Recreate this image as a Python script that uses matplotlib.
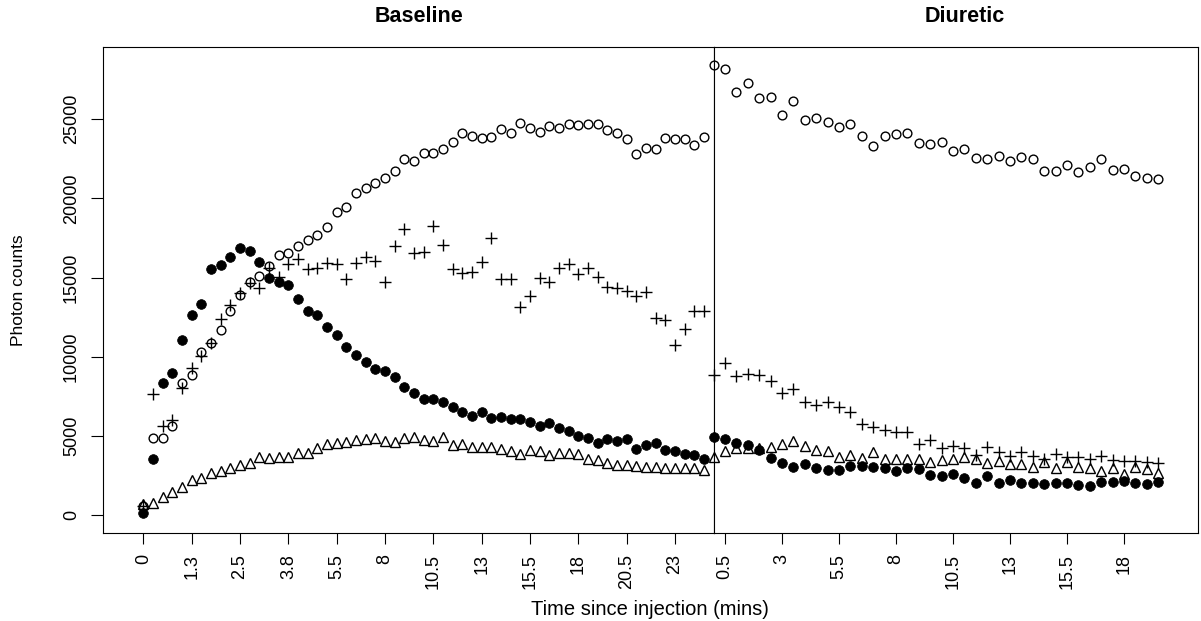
"""
Renogram photon counts, baseline vs diuretic phase (R base-graphics look).
Output: out.png
"""
import matplotlib
matplotlib.use('Agg')
import matplotlib.pyplot as plt

# Baseline phase, one value per frame (59 frames)
base_labels = ["0", "1.3", "2.5", "3.8", "5.5", "8", "10.5", "13", "15.5", "18", "20.5", "23"]
base_open = [600, 4840, 4840, 5640, 8320, 8850, 10320, 10850, 11690, 12910,
             13900, 14700, 15100, 15730, 16430, 16570, 17020, 17380, 17690, 18220,
             19170, 19480, 20320, 20640, 20960, 21290, 21760, 22470, 22390, 22890,
             22890, 23120, 23590, 24110, 23970, 23800, 23860, 24370, 24110, 24790,
             24470, 24220, 24600, 24470, 24700, 24620, 24680, 24700, 24320, 24160,
             23780, 22810, 23210, 23150, 23800, 23780, 23740, 23400, 23860]
base_plus = [600, 7620, 5640, 6000, 8000, 9270, 10050, 10850, 12360, 13270,
             14050, 14680, 14320, 15580, 15060, 15840, 16170, 15520, 15580, 15940,
             15840, 14890, 15900, 16320, 16050, 14740, 17020, 18050, 16530, 16600,
             18260, 17060, 15520, 15310, 15370, 16010, 17480, 14890, 14890, 13120,
             13840, 15000, 14700, 15630, 15860, 15210, 15630, 15060, 14380, 14320,
             14170, 13840, 14070, 12470, 12320, 10740, 11750, 12910, 12910]
base_filled = [100, 3540, 8360, 8950, 11040, 12640, 13350, 15520, 15770, 16300,
               16850, 16680, 15990, 15000, 14740, 14530, 13630, 12910, 12640, 11900,
               11350, 10640, 10090, 9650, 9250, 9100, 8740, 8110, 7730, 7310,
               7310, 7140, 6850, 6510, 6260, 6510, 6130, 6210, 6040, 6040,
               5900, 5620, 5830, 5520, 5290, 4990, 4840, 4530, 4780, 4680,
               4780, 4150, 4420, 4570, 4110, 4040, 3830, 3770, 3560]
base_tri = [700, 740, 1160, 1470, 1790, 2210, 2320, 2630, 2800, 2990,
            3160, 3260, 3690, 3580, 3640, 3690, 3900, 3900, 4250, 4490,
            4530, 4630, 4740, 4780, 4890, 4680, 4590, 4840, 4950, 4740,
            4680, 4910, 4440, 4490, 4320, 4320, 4300, 4150, 4070, 3850,
            4110, 4070, 3790, 3900, 3900, 3850, 3520, 3480, 3310, 3160,
            3160, 3120, 3050, 3010, 2950, 2990, 2990, 2990, 2840]

# Diuretic phase, 30 s frames (40 frames)
diur_labels = ["0.5", "3", "5.5", "8", "10.5", "13", "15.5", "18"]
diur_open = [28400, 28200, 26750, 27270, 26330, 26410, 25290, 26180, 24940, 25060,
             24850, 24490, 24680, 23970, 23290, 23970, 24070, 24110, 23480, 23440,
             23550, 23000, 23120, 22530, 22490, 22700, 22370, 22600, 22470, 21760,
             21730, 22110, 21690, 21970, 22470, 21800, 21840, 21440, 21270, 21230]
diur_plus = [8850, 9620, 8780, 8890, 8850, 8470, 7690, 7960, 7160, 6950,
             7160, 6850, 6490, 5730, 5580, 5370, 5270, 5270, 4490, 4740,
             4250, 4380, 4250, 3790, 4320, 4000, 3750, 3960, 3750, 3560,
             3850, 3640, 3640, 3540, 3750, 3480, 3410, 3410, 3370, 3310]
diur_filled = [4950, 4800, 4570, 4420, 4110, 3580, 3260, 3050, 3200, 2990,
               2840, 2840, 3120, 3120, 3050, 2990, 2800, 2950, 2890, 2530,
               2460, 2590, 2360, 2040, 2460, 2040, 2210, 2040, 2040, 1940,
               2040, 2000, 1900, 1850, 2060, 2110, 2150, 2000, 1940, 2110]
diur_tri = [3640, 4070, 4210, 4210, 4210, 4320, 4470, 4700, 4380, 4110,
            4070, 3690, 3790, 3620, 4000, 3540, 3540, 3540, 3540, 3370,
            3480, 3540, 3690, 3520, 3260, 3410, 3220, 3220, 3010, 3370,
            2990, 3370, 3050, 2990, 2800, 2990, 2570, 3050, 2890, 2630]

FONT = ['Liberation Sans', 'DejaVu Sans']


def draw_panel(ax, series, tick_start, labels):
    n = len(series[0])
    x = list(range(n))
    opn, plus, filled, tri = series
    kw = dict(linestyle='none', color='black', clip_on=False)
    ax.plot(x, opn, marker='o', ms=6.3, mfc='none', mew=1.0, **kw)
    ax.plot(x, plus, marker='+', ms=9, mew=1.0, **kw)
    ax.plot(x, filled, marker='o', ms=7.0, mfc='black', mew=0.5, **kw)
    ax.plot(x, tri, marker='^', ms=7.5, mfc='none', mew=1.0, **kw)

    ax.set_xticks(list(range(tick_start, tick_start + 5 * len(labels), 5)))
    ax.set_xticklabels(labels, rotation=90, fontsize=13, family=FONT)
    ax.tick_params(axis='x', length=8, width=0.8, pad=7)
    for s in ax.spines.values():
        s.set_linewidth(0.8)


def main():
    fig = plt.figure(figsize=(12.01, 6.21), dpi=100)
    bottom, height = 0.1417, 0.7826
    ax1 = fig.add_axes([0.0856, bottom, 0.5086, height])
    ax2 = fig.add_axes([0.5942, bottom, 0.4033, height])

    draw_panel(ax1, (base_open, base_plus, base_filled, base_tri), 0, base_labels)
    draw_panel(ax2, (diur_open, diur_plus, diur_filled, diur_tri), 1, diur_labels)

    ylim = (-1137, 29568)
    ax1.set_ylim(*ylim)
    ax2.set_ylim(*ylim)
    ax1.set_xlim(-4.2, 59.0)
    ax2.set_xlim(0, 42.5)

    ax1.set_yticks(range(0, 25001, 5000))
    ax1.set_yticklabels([str(v) for v in range(0, 25001, 5000)], rotation=90,
                        va='center', fontsize=13, family=FONT)
    ax1.tick_params(axis='y', length=8.5, width=0.8, pad=8)
    ax2.set_yticks([])

    # panel titles, sitting a little right of the panel centres as in the source
    fig.text(0.349, 0.974, "Baseline", ha='center', va='center',
             fontsize=15.5, fontweight='bold', family=FONT)
    fig.text(0.803, 0.974, "Diuretic", ha='center', va='center',
             fontsize=15.5, fontweight='bold', family=FONT)

    fig.text(0.5415, 0.01, "Time since injection (mins)", ha='center', va='baseline',
             fontsize=14.5, family=FONT)
    fig.text(0.015, 0.533, "Photon counts", rotation=90, ha='center', va='center',
             fontsize=12.5, family=FONT)

    fig.savefig("out.png", dpi=100)
    plt.close(fig)


if __name__ == "__main__":
    main()
